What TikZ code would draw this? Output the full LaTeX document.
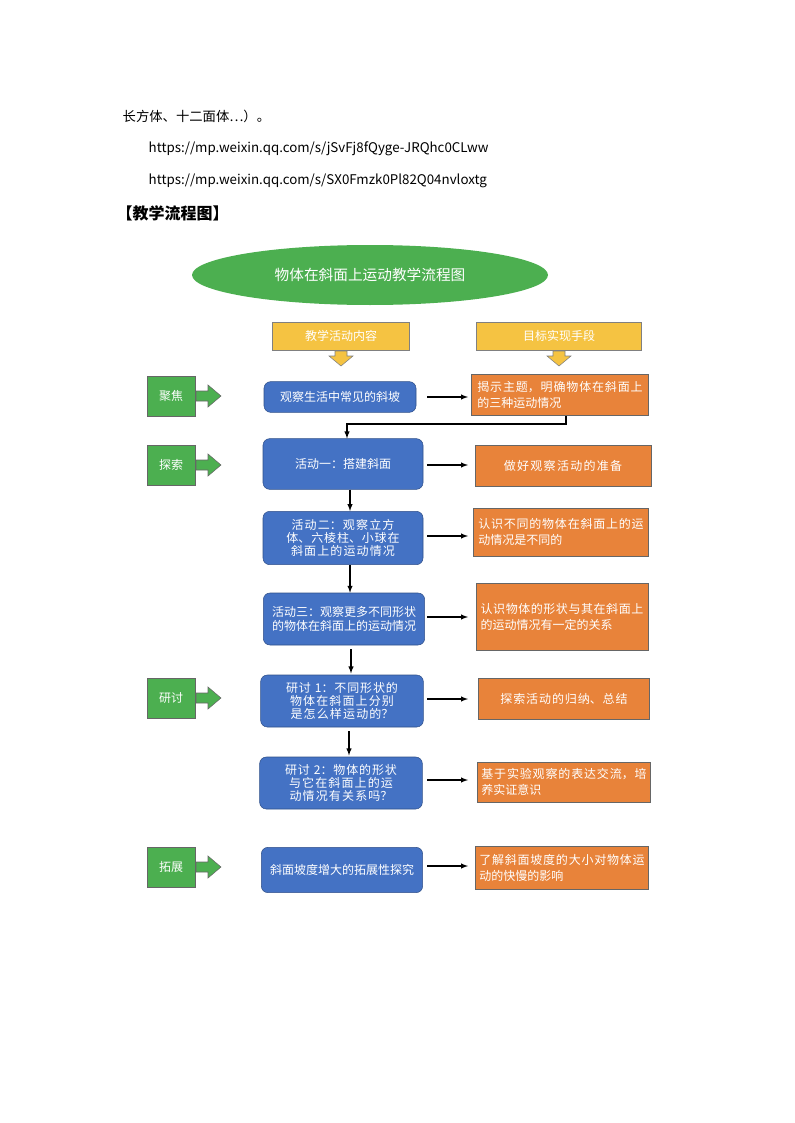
\documentclass[tikz,border=0pt]{standalone}
\usepackage{fontspec}
\setmainfont{Noto Sans CJK SC}
\XeTeXlinebreaklocale "zh"
\XeTeXlinebreakskip=0pt plus 1pt
\usetikzlibrary{shapes.arrows,shapes.geometric}
\definecolor{bl}{HTML}{4472C4}
\definecolor{og}{HTML}{E8833A}
\definecolor{gr}{HTML}{4CAF50}
\definecolor{ye}{HTML}{F5C342}
\tikzset{
 x=0.75pt,y=-0.75pt,
 bbox/.style={draw=bl!70!black,fill=bl,rounded corners=5pt,text=white,font=\fontsize{9}{10}\selectfont,align=center,inner sep=2pt},
 obox/.style={draw=black!60,fill=og,text=white,font=\fontsize{9}{12}\selectfont,align=justify,inner sep=3pt},
 gbox/.style={draw=black!60,fill=gr,text=white,font=\fontsize{9}{11}\selectfont},
 ybox/.style={draw=black!50,fill=ye,text=white,font=\fontsize{9}{11}\selectfont},
 arr/.style={-latex,thick},
}
\begin{document}
\begin{tikzpicture}
\useasboundingbox (0,0) rectangle (794,1123);
\node[anchor=west,font=\fontsize{10}{12}\selectfont] (t1) at (118,116) {长方体、十二面体…）。};
\node[anchor=west,font=\fontsize{10}{12}\selectfont] (u1) at (144,149) {https://mp.weixin.qq.com/s/jSvFj8fQyge-JRQhc0CLww};
\node[anchor=west,font=\fontsize{10}{12}\selectfont] (u2) at (144,181) {https://mp.weixin.qq.com/s/SX0Fmzk0Pl82Q04nvloxtg};
\node[anchor=west,font=\fontsize{12}{14}\selectfont\bfseries] (h) at (112,213) {【教学流程图】};
\node[ellipse,fill=gr,minimum width=267pt,minimum height=45pt,text=white,font=\fontsize{11}{13}\selectfont] (title) at (370,275) {物体在斜面上运动教学流程图};
% yellow
\node[ybox,minimum width=103pt,minimum height=21pt] (y1) at (341,336) {教学活动内容};
\node[ybox,minimum width=124pt,minimum height=21pt] (y2) at (559,336) {目标实现手段};
\foreach \xx in {341,559}{
 \fill[ye,draw=black!50] (\xx-6,351)--(\xx+6,351)--(\xx+6,356)--(\xx+12,356)--(\xx,366)--(\xx-12,356)--(\xx-6,356)--cycle;}
% green labels
\foreach \nm/\yy/\tx in {g1/396/聚焦,g2/465/探索,g3/698/研讨,g4/867/拓展}{
 \node[gbox,minimum width=36pt,minimum height=30pt] (\nm) at (171,\yy) {\tx};
 \fill[gr,draw=black!60] (196,\yy-5)--(208,\yy-5)--(208,\yy-11)--(221,\yy)--(208,\yy+11)--(208,\yy+5)--(196,\yy+5)--cycle;}
% blue
\node[bbox,minimum width=114pt,minimum height=23pt] (b1) at (340,397) {观察生活中常见的斜坡};
\node[bbox,minimum width=120pt,minimum height=38pt] (b2) at (343,464) {活动一：搭建斜面};
\node[bbox,minimum width=120pt,minimum height=40pt,text width=108pt] (b3) at (343,538) {活动二：观察立方体、六棱柱、小球在斜面上的运动情况};
\node[bbox,minimum width=121pt,minimum height=39pt,text width=108pt] (b4) at (344,619) {活动三：观察更多不同形状的物体在斜面上的运动情况};
\node[bbox,minimum width=122pt,minimum height=39pt,text width=108pt] (b5) at (342,701) {研讨~1：不同形状的物体在斜面上分别是怎么样运动的？};
\node[bbox,minimum width=122pt,minimum height=39pt,text width=108pt] (b6) at (341,783) {研讨~2：物体的形状与它在斜面上的运动情况有关系吗？};
\node[bbox,minimum width=121pt,minimum height=34pt,text width=108pt] (b7) at (342,870) {斜面坡度增大的拓展性探究};
% orange
\node[obox,minimum width=133pt,minimum height=31pt,text width=124pt] (o1) at (560,395) {揭示主题，明确物体在斜面上的三种运动情况};
\node[obox,minimum width=132pt,minimum height=31pt,align=center,text width=124pt] (o2) at (563,466) {做好观察活动的准备};
\node[obox,minimum width=131pt,minimum height=36pt,text width=124pt] (o3) at (561,532) {认识不同的物体在斜面上的运动情况是不同的};
\node[obox,minimum width=129pt,minimum height=50pt,text width=122pt] (o4) at (562,617) {认识物体的形状与其在斜面上的运动情况有一定的关系};
\node[obox,minimum width=128pt,minimum height=31pt,align=center,text width=120pt] (o5) at (564,699) {探索活动的归纳、总结};
\node[obox,minimum width=130pt,minimum height=30pt,text width=124pt] (o6) at (564,782) {基于实验观察的表达交流，培养实证意识};
\node[obox,minimum width=130pt,minimum height=32pt,text width=124pt] (o7) at (562,868) {了解斜面坡度的大小对物体运动的快慢的影响};
% horizontal arrows
\foreach \a/\yy in {b1/397,b2/465,b3/536,b4/617,b5/699,b6/780,b7/866}{
 \coordinate (s\a) at (427,\yy); \coordinate (e\a) at (468,\yy);
 \draw[arr] (s\a) -- (e\a);}
\draw[arr] (o1.south -| 566,0) |- (347,424) -- (b2.north -| 347,0);
\draw[arr] (b2.south -| 350,0) -- (b3.north -| 350,0);
\draw[arr] (b3.south -| 350,0) -- (b4.north -| 350,0);
\draw[arr] ([yshift=-3pt]b4.south -| 351,0) -- ([yshift=1pt]b5.north -| 351,0);
\draw[arr] ([yshift=-3pt]b5.south -| 349,0) -- ([yshift=1pt]b6.north -| 349,0);
\end{tikzpicture}
\end{document}
